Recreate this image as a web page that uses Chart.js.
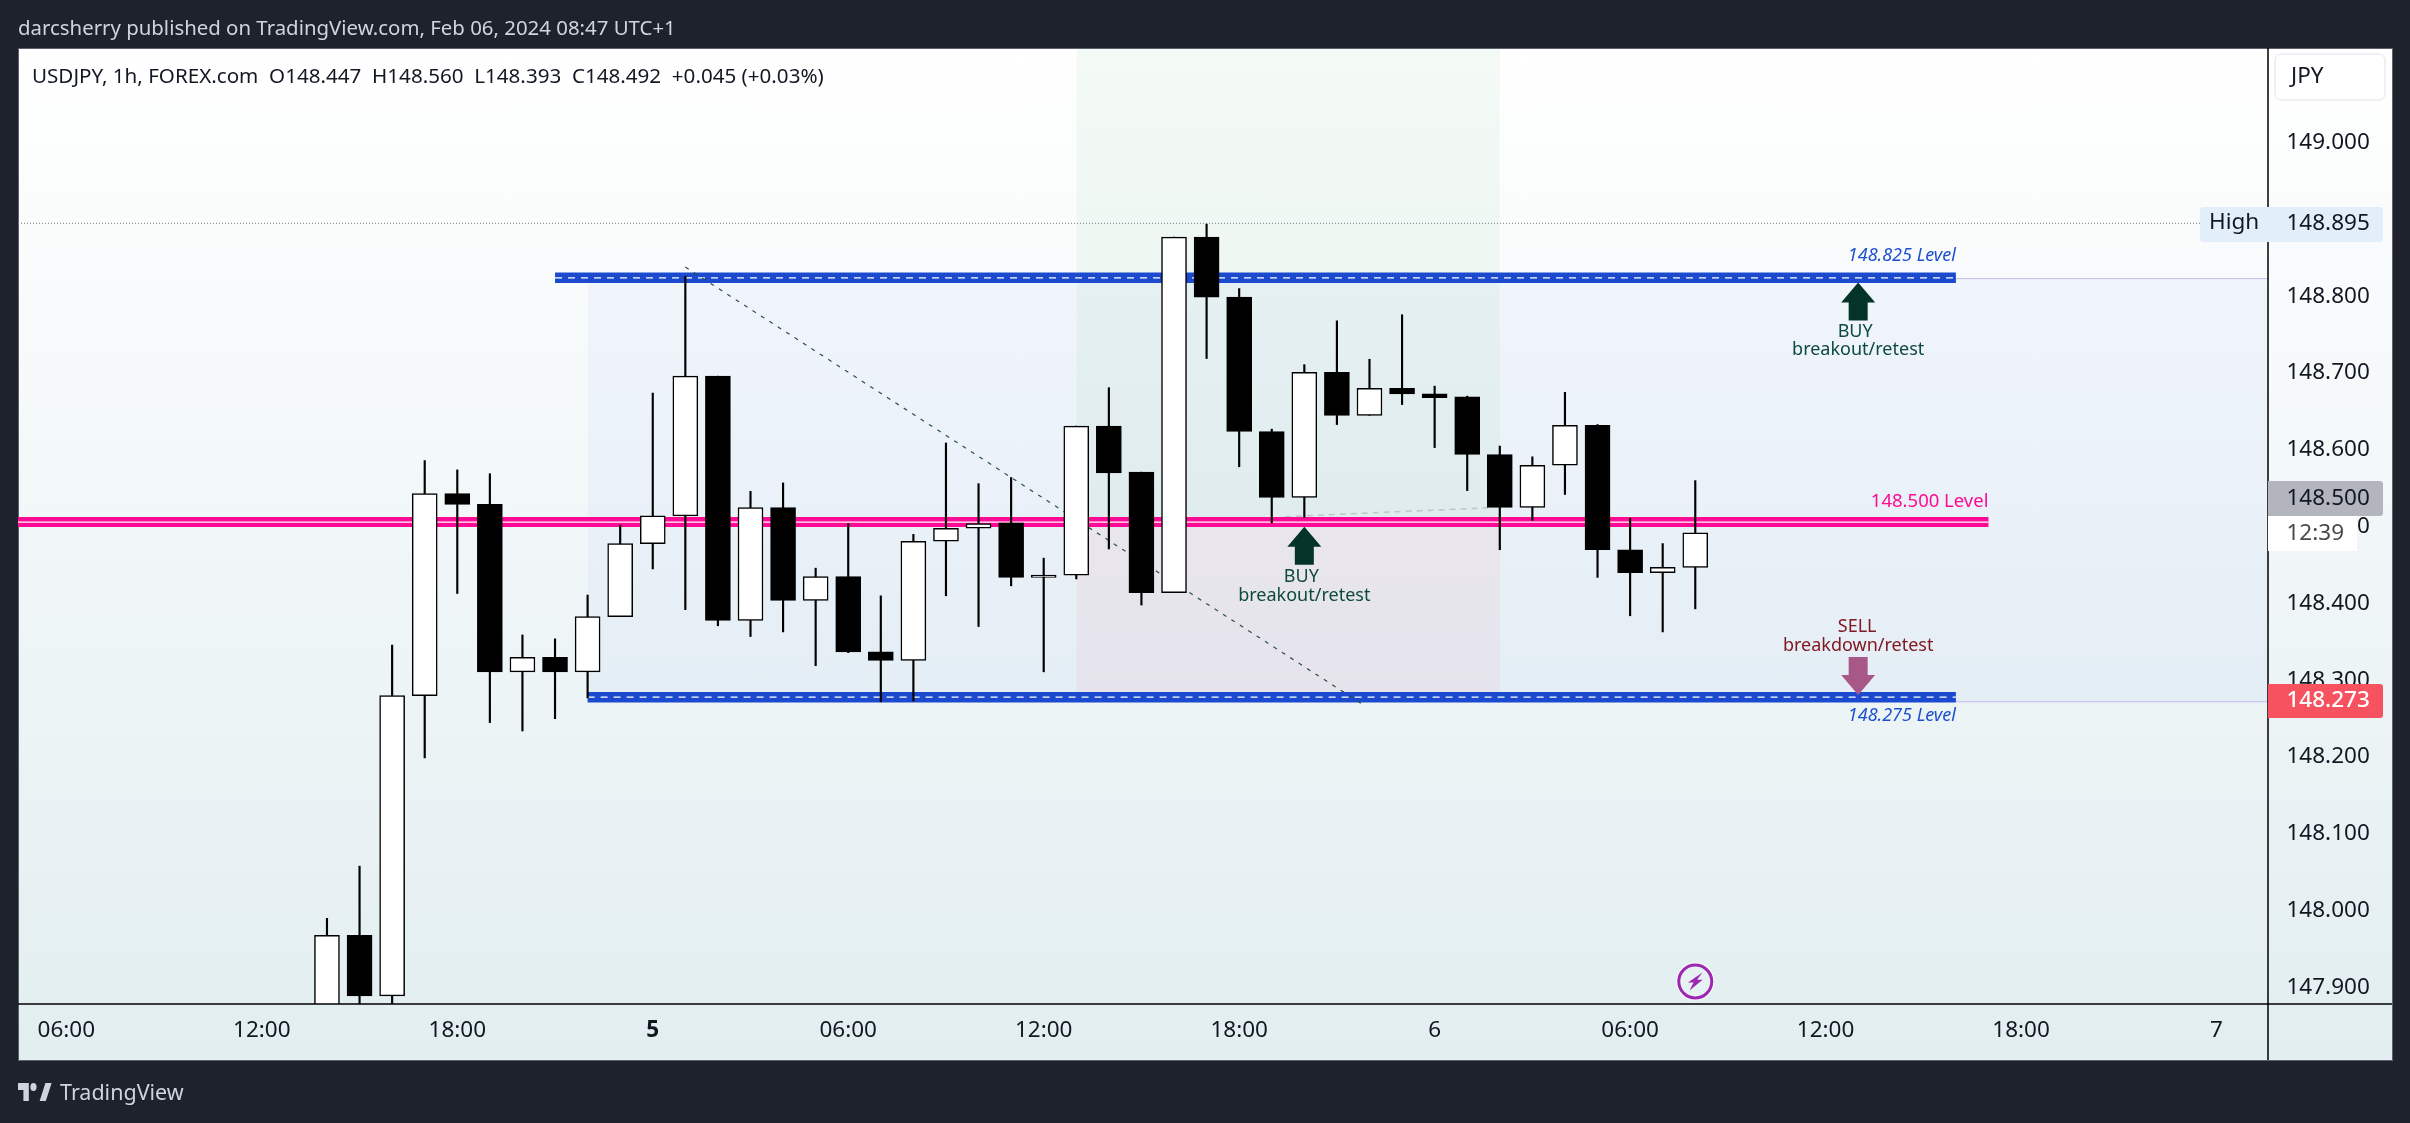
<!DOCTYPE html>
<html>
<head>
<meta charset="utf-8">
<title>USDJPY 1h</title>
<script src="https://cdn.jsdelivr.net/npm/chart.js@4"></script>
<style>
  html, body { margin: 0; padding: 0; background: #1e222d; width: 2410px; height: 1123px; overflow: hidden; }
  body { position: relative; font-family: "Noto Sans", sans-serif; }
  #panel { position: absolute; left: 18px; top: 48px; width: 2373px; height: 1011px; border: 1px solid #5d606b;
    background: linear-gradient(180deg, #ffffff 0%, #e2eef0 100%); }
  #chart { position: absolute; left: 0; top: 0; }
  #published { position: absolute; left: 18px; top: 12px; font-size: 20.4px; line-height: 30px; color: #d1d4dc; white-space: nowrap; }
  #quote { position: absolute; left: 32px; top: 60px; font-size: 20.6px; line-height: 30px; color: #131722; white-space: pre; }
  #logo { position: absolute; left: 18px; top: 1082px; color: #d1d4dc; font-size: 21.5px; line-height: 20px; white-space: nowrap; }
  #logo svg { position: absolute; left: 0; top: 1px; width: 34px; height: 18px; fill: #d1d4dc; }
  #logo span { margin-left: 42px; }
</style>
</head>
<body>
<div id="panel"></div>
<canvas id="chart" width="2410" height="1123"></canvas>
<div id="published">darcsherry published on TradingView.com, Feb 06, 2024 08:47 UTC+1</div>
<div id="quote">USDJPY, 1h, FOREX.com  O148.447  H148.560  L148.393  C148.492  +0.045 (+0.03%)</div>
<div id="logo"><svg viewBox="0 4 44 18" preserveAspectRatio="none"><path d="M14 22H7V11H0V4h14v18zM28 22h8l7.5-18h-8L28 22z"/><circle cx="20" cy="8" r="4"/></svg><span>TradingView</span></div>
<script>
  // Candles, one per hour, bar 0 is the first one in the picture
  const candleOpen = [147.820, 147.968, 147.889, 148.280, 148.543, 148.529, 148.311, 148.330, 148.311, 148.383, 148.478,
    148.514, 148.696, 148.378, 148.525, 148.404, 148.435, 148.337, 148.326, 148.481, 148.498, 148.505, 148.434, 148.437,
    148.631, 148.571, 148.414, 148.877, 148.799, 148.624, 148.538, 148.701, 148.645, 148.680, 148.673, 148.669, 148.594,
    148.525, 148.580, 148.632, 148.470, 148.440, 148.447];
  const candleHigh = [147.990, 148.058, 148.346, 148.586, 148.574, 148.569, 148.359, 148.354, 148.411, 148.502, 148.674,
    148.826, 148.696, 148.546, 148.557, 148.446, 148.504, 148.410, 148.490, 148.609, 148.556, 148.564, 148.459, 148.631,
    148.681, 148.571, 148.877, 148.894, 148.810, 148.627, 148.711, 148.768, 148.718, 148.776, 148.683, 148.670, 148.605,
    148.591, 148.675, 148.633, 148.511, 148.478, 148.560];
  const candleLow = [147.800, 147.860, 147.860, 148.199, 148.413, 148.245, 148.234, 148.250, 148.277, 148.383, 148.445,
    148.392, 148.371, 148.357, 148.363, 148.319, 148.336, 148.272, 148.273, 148.410, 148.370, 148.423, 148.311, 148.432,
    148.471, 148.398, 148.414, 148.719, 148.578, 148.505, 148.512, 148.633, 148.645, 148.659, 148.603, 148.547, 148.470,
    148.508, 148.542, 148.434, 148.384, 148.363, 148.393];
  const candleClose = [147.968, 147.889, 148.280, 148.543, 148.529, 148.311, 148.330, 148.311, 148.383, 148.478, 148.514,
    148.696, 148.378, 148.525, 148.404, 148.435, 148.337, 148.326, 148.481, 148.498, 148.504, 148.434, 148.437, 148.631,
    148.570, 148.414, 148.877, 148.799, 148.624, 148.538, 148.701, 148.645, 148.680, 148.673, 148.668, 148.594, 148.525,
    148.580, 148.632, 148.470, 148.440, 148.447, 148.492];

  // Axis ticks
  const xTickValues = [-8, -2, 4, 10, 16, 22, 28, 34, 40, 46, 52, 58];
  const xTickLabels = ['06:00', '12:00', '18:00', '5', '06:00', '12:00', '18:00', '6', '06:00', '12:00', '18:00', '7'];
  const yTickValues = [147.9, 148.0, 148.1, 148.2, 148.3, 148.4, 148.5, 148.6, 148.7, 148.8, 148.9, 149.0, 149.1];

  // Visible range of the two axes
  const xRange = [-9.484, 59.58];
  const yRange = [147.8785, 149.1233];

  // Drawings on the chart
  const upperBandX = [7, 50];
  const lowerBandX = [8, 50];
  const pivotBandX = [-9.484, 51];
  const upperBandPrice = 148.824;
  const lowerBandPrice = 148.278;
  const pivotBandPrice = 148.506;
  const upperLinePrice = 148.823;
  const lowerLinePrice = 148.272;
  const highPrice = 148.895;
  const trendX = [11, 31.85];
  const trendPrice = [148.838, 148.267];
  const retestX = [29.4, 35.8];
  const retestPrice = [148.513, 148.525];
  const zoneX = [23, 36];
  const zonePrice = 148.506;
  const rangeX = [8, 59.58];

  const fontFamily = '"Noto Sans", sans-serif';

  const barIndex = candleOpen.map((v, i) => i);

  function segment(xs, ys) {
    return xs.map((x, i) => ({ x: x, y: ys[i] }));
  }

  function lineSet(xs, ys, color, width, dash, order) {
    return {
      type: 'line',
      data: segment(xs, ys),
      borderColor: color,
      borderWidth: width,
      borderDash: dash,
      pointRadius: 0,
      tension: 0,
      fill: false,
      order: order
    };
  }

  function zoneSet(xs, top, bottom, color, order) {
    return {
      type: 'line',
      data: segment(xs, [top, top]),
      borderWidth: 0,
      pointRadius: 0,
      backgroundColor: color,
      fill: { value: bottom },
      order: order
    };
  }

  function text(ctx, str, x, y, font, color, align) {
    ctx.font = font;
    ctx.fillStyle = color;
    ctx.textAlign = align;
    ctx.textBaseline = 'middle';
    ctx.fillText(str, x, y);
  }

  function upArrow(ctx, x, tip, color) {
    ctx.fillStyle = color;
    ctx.beginPath();
    ctx.moveTo(x, tip);
    ctx.lineTo(x + 17, tip + 20);
    ctx.lineTo(x + 9.5, tip + 20);
    ctx.lineTo(x + 9.5, tip + 38);
    ctx.lineTo(x - 9.5, tip + 38);
    ctx.lineTo(x - 9.5, tip + 20);
    ctx.lineTo(x - 17, tip + 20);
    ctx.closePath();
    ctx.fill();
  }

  function downArrow(ctx, x, tip, color) {
    ctx.fillStyle = color;
    ctx.beginPath();
    ctx.moveTo(x, tip);
    ctx.lineTo(x + 17, tip - 20);
    ctx.lineTo(x + 9.5, tip - 20);
    ctx.lineTo(x + 9.5, tip - 38);
    ctx.lineTo(x - 9.5, tip - 38);
    ctx.lineTo(x - 9.5, tip - 20);
    ctx.lineTo(x - 17, tip - 20);
    ctx.closePath();
    ctx.fill();
  }

  function priceBox(ctx, left, top, right, bottom, color) {
    ctx.fillStyle = color;
    ctx.beginPath();
    ctx.roundRect(left, top, right - left, bottom - top, [0, 3, 3, 0]);
    ctx.fill();
  }

  // Arrows, notes, price boxes and frame lines that Chart.js has no element for
  const overlayPlugin = {
    id: 'overlay',
    afterDraw(chart) {
      const ctx = chart.ctx;
      const sx = chart.scales.x;
      const sy = chart.scales.y;
      const area = chart.chartArea;
      const labelFont = '18px ' + fontFamily;
      const priceFont = '22.5px ' + fontFamily;

      ctx.save();

      // frame lines
      ctx.strokeStyle = '#000000';
      ctx.lineWidth = 1.5;
      ctx.beginPath();
      ctx.moveTo(area.left, area.bottom);
      ctx.lineTo(2392, area.bottom);
      ctx.moveTo(area.right, area.top);
      ctx.lineTo(area.right, 1060);
      ctx.stroke();

      // level notes
      const bandEnd = sx.getPixelForValue(upperBandX[1]);
      const pivotEnd = sx.getPixelForValue(pivotBandX[1]);
      text(ctx, '148.825 Level', bandEnd, sy.getPixelForValue(upperBandPrice) - 22, 'italic ' + labelFont, '#1c4ecf', 'right');
      text(ctx, '148.500 Level', pivotEnd, sy.getPixelForValue(pivotBandPrice) - 20, '18.5px ' + fontFamily, '#ff0a94', 'right');
      text(ctx, '148.275 Level', bandEnd, sy.getPixelForValue(lowerBandPrice) + 19, 'italic ' + labelFont, '#1c4ecf', 'right');

      // buy at the pivot
      const buyX = sx.getPixelForValue(30);
      const buyTip = sy.getPixelForValue(148.5);
      upArrow(ctx, buyX, buyTip, '#04332a');
      text(ctx, 'BUY', buyX - 3, buyTip + 50.5, labelFont, '#0d4a3c', 'center');
      text(ctx, 'breakout/retest', buyX, buyTip + 69, labelFont, '#0d4a3c', 'center');

      // buy above the upper band
      const upX = sx.getPixelForValue(47);
      const upTip = sy.getPixelForValue(148.818);
      upArrow(ctx, upX, upTip, '#04332a');
      text(ctx, 'BUY', upX - 3, upTip + 49, labelFont, '#0d4a3c', 'center');
      text(ctx, 'breakout/retest', upX, upTip + 67.5, labelFont, '#0d4a3c', 'center');

      // sell at the lower band
      const sellTip = sy.getPixelForValue(148.281);
      downArrow(ctx, upX, sellTip, '#a85888');
      text(ctx, 'SELL', upX - 1, sellTip - 68, labelFont, '#801922', 'center');
      text(ctx, 'breakdown/retest', upX, sellTip - 49.5, labelFont, '#801922', 'center');

      // flash icon
      const iconX = sx.getPixelForValue(42);
      const iconY = 981.5;
      ctx.fillStyle = '#ffffff';
      ctx.beginPath();
      ctx.arc(iconX, iconY, 19, 0, Math.PI * 2);
      ctx.fill();
      ctx.fillStyle = '#e6f1f3';
      ctx.strokeStyle = '#9c27b0';
      ctx.lineWidth = 3;
      ctx.beginPath();
      ctx.arc(iconX, iconY, 16.5, 0, Math.PI * 2);
      ctx.fill();
      ctx.stroke();
      ctx.fillStyle = '#9c27b0';
      ctx.beginPath();
      ctx.moveTo(iconX + 7.3, iconY - 9);
      ctx.lineTo(iconX - 7.3, iconY + 1);
      ctx.lineTo(iconX - 1.7, iconY + 1);
      ctx.lineTo(iconX - 5.7, iconY + 9);
      ctx.lineTo(iconX + 7.3, iconY - 1.7);
      ctx.lineTo(iconX + 1.7, iconY - 1.7);
      ctx.closePath();
      ctx.fill();

      // currency button
      ctx.fillStyle = '#ffffff';
      ctx.strokeStyle = '#e0e3eb';
      ctx.lineWidth = 1;
      ctx.beginPath();
      ctx.roundRect(2275, 54, 110, 46, 6);
      ctx.fill();
      ctx.stroke();
      text(ctx, 'JPY', 2291, 77, priceFont, '#131722', 'left');

      // price boxes on the axis
      const priceX = 2286.5;
      ctx.fillStyle = '#e3eefb';
      ctx.beginPath();
      ctx.roundRect(2200, 207, 183, 35, 3);
      ctx.fill();
      text(ctx, 'High', 2209, 223, priceFont, '#131722', 'left');
      text(ctx, '148.895', priceX, 224, priceFont, '#131722', 'left');

      priceBox(ctx, 2268, 481, 2383, 516, '#b2b5be');
      text(ctx, '148.500', priceX, 499, priceFont, '#131722', 'left');

      ctx.fillStyle = '#ffffff';
      ctx.fillRect(2268, 516, 89, 35);
      text(ctx, '12:39', priceX, 534, priceFont, '#4a4a4a', 'left');

      priceBox(ctx, 2268, 684, 2383, 718, '#f7525f');
      text(ctx, '148.273', priceX, 701, '500 22.5px ' + fontFamily, '#ffffff', 'left');

      ctx.restore();
    }
  };

  new Chart(document.getElementById('chart'), {
    type: 'bar',
    plugins: [overlayPlugin],
    data: {
      datasets: [
        zoneSet(zoneX, yRange[1], zonePrice, 'rgba(76, 175, 80, 0.06)', 90),
        zoneSet(zoneX, zonePrice, lowerBandPrice, 'rgba(240, 90, 100, 0.07)', 90),
        zoneSet(rangeX, upperLinePrice, lowerLinePrice, 'rgba(41, 98, 255, 0.04)', 95),
        lineSet([upperBandX[1], xRange[1]], [upperLinePrice, upperLinePrice], '#c5b8ee', 1, [], 80),
        lineSet([lowerBandX[1], xRange[1]], [lowerLinePrice, lowerLinePrice], '#c5b8ee', 1, [], 80),
        lineSet(xRange, [highPrice, highPrice], '#787b86', 1, [1, 2], 80),
        lineSet(retestX, retestPrice, 'rgba(150, 150, 150, 0.45)', 1.5, [6, 5], 80),
        lineSet(upperBandX, [upperBandPrice, upperBandPrice], '#1c4acf', 10.5, [], 70),
        lineSet(upperBandX, [upperBandPrice, upperBandPrice], '#ffffff', 1.3, [7, 6], 69),
        lineSet(lowerBandX, [lowerBandPrice, lowerBandPrice], '#1c4acf', 10.5, [], 70),
        lineSet(lowerBandX, [lowerBandPrice, lowerBandPrice], '#ffffff', 1.3, [7, 6], 69),
        lineSet(pivotBandX, [pivotBandPrice, pivotBandPrice], '#ff0a94', 10, [], 70),
        lineSet(pivotBandX, [pivotBandPrice, pivotBandPrice], '#ffffff', 1.3, [], 69),
        lineSet(trendX, trendPrice, '#2a4f48', 1.2, [4, 6], 60),
        {
          // wicks
          data: barIndex.map(i => ({ x: i, y: [candleLow[i], candleHigh[i]] })),
          backgroundColor: '#000000',
          barThickness: 1.5,
          grouped: false,
          order: 20
        },
        {
          // bodies
          data: barIndex.map(i => ({ x: i, y: [candleOpen[i], candleClose[i]] })),
          backgroundColor: barIndex.map(i => candleClose[i] >= candleOpen[i] ? '#ffffff' : '#000000'),
          borderColor: '#000000',
          borderWidth: 1.5,
          borderSkipped: false,
          barThickness: 25,
          grouped: false,
          order: 10
        }
      ]
    },
    options: {
      responsive: false,
      devicePixelRatio: 1,
      animation: false,
      events: [],
      layout: { padding: { left: 18, top: 48, right: 18, bottom: 63 } },
      plugins: { legend: { display: false }, tooltip: { enabled: false } },
      scales: {
        x: {
          type: 'linear',
          position: 'bottom',
          offset: false,
          min: xRange[0],
          max: xRange[1],
          grid: { display: false, drawTicks: false },
          border: { display: false },
          afterBuildTicks: scale => { scale.ticks = xTickValues.map(v => ({ value: v })); },
          afterFit: scale => { scale.height = 56; },
          ticks: {
            autoSkip: false,
            maxRotation: 0,
            padding: 13,
            color: '#131722',
            font: ctx => ({
              family: fontFamily,
              size: 22.5,
              weight: ctx.tick && xTickLabels[xTickValues.indexOf(ctx.tick.value)] === '5' ? 'bold' : 'normal'
            }),
            callback: value => xTickLabels[xTickValues.indexOf(value)]
          }
        },
        y: {
          type: 'linear',
          position: 'right',
          min: yRange[0],
          max: yRange[1],
          grid: { display: false, drawTicks: false },
          border: { display: false },
          afterBuildTicks: scale => { scale.ticks = yTickValues.map(v => ({ value: v })); },
          afterFit: scale => { scale.width = 124; },
          ticks: {
            autoSkip: false,
            padding: 18.5,
            crossAlign: 'near',
            color: '#131722',
            font: { family: fontFamily, size: 22.5 },
            callback: value => value.toFixed(3)
          }
        }
      }
    }
  });
</script>
</body>
</html>
